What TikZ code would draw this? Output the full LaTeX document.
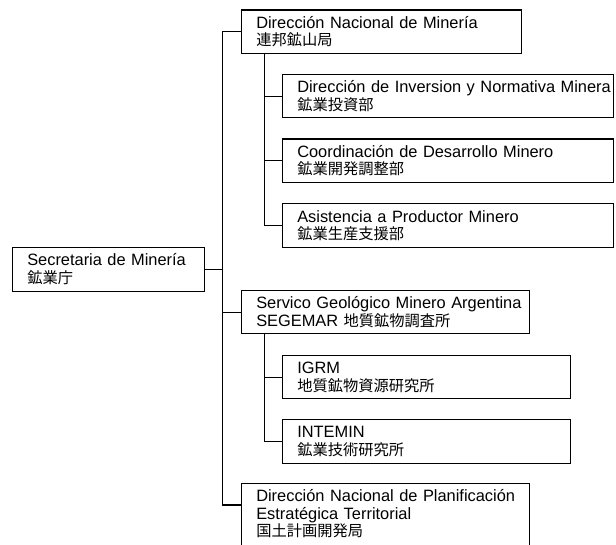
\documentclass[tikz,border=0pt]{standalone}
\usepackage{fontspec}
\setmainfont{Liberation Sans}
\newfontfamily\cjk[Scale=0.93]{Noto Sans CJK JP}
\begin{document}
\begin{tikzpicture}[x=1pt,y=-1pt,
  box/.style={draw, line width=1.1pt, anchor=north west, align=left,
    inner xsep=15pt, inner ysep=0pt, font=\fontsize{16.4}{17.5}\selectfont},
  conn/.style={line width=1.1pt}]
\useasboundingbox (0,0) rectangle (616,545);
\clip (0,0) rectangle (616,545);
% boxes
\node[box, text width=162.3pt, minimum height=44pt] (sec) at (11.7,246.7)
  {\mbox{Secretaria de Minería}\\{\cjk 鉱業庁}};
\node[box, text width=250pt, minimum height=43.2pt] (dnm) at (240.7,9.5)
  {\mbox{Dirección Nacional de Minería}\\{\cjk 連邦鉱山局}};
\node[box, text width=301.6pt, minimum height=43.4pt] (inv) at (281.7,74)
  {\mbox{Dirección de Inversion y Normativa Minera}\\{\cjk 鉱業投資部}};
\node[box, text width=301.6pt, minimum height=43.6pt] (coord) at (281.7,138.5)
  {\mbox{Coordinación de Desarrollo Minero}\\{\cjk 鉱業開発調整部}};
\node[box, text width=301.6pt, minimum height=43.4pt] (asis) at (281.7,203.3)
  {\mbox{Asistencia a Productor Minero}\\{\cjk 鉱業生産支援部}};
\node[box, text width=258.6pt, minimum height=43.3pt] (seg) at (240.7,290)
  {\mbox{Servico Geológico Minero Argentina}\\\mbox{SEGEMAR {\cjk 地質鉱物調査所}}};
\node[box, text width=258.6pt, minimum height=43.3pt] (igrm) at (281.7,355)
  {IGRM\\{\cjk 地質鉱物資源研究所}};
\node[box, text width=258.6pt, minimum height=43.3pt] (intemin) at (281.7,419.3)
  {INTEMIN\\{\cjk 鉱業技術研究所}};
\node[box, text width=258.6pt, inner ysep=6pt, text depth=60pt] (plan) at (240.7,483.3)
  {\mbox{Dirección Nacional de Planificación}\\\mbox{Estratégica Territorial}\\{\cjk 国土計画開発局}};
% connector coordinates
\coordinate (trunk) at (222.7,0);
\coordinate (subA) at (264.3,0);
\coordinate (subB) at (264.3,0);
\coordinate (planjoin) at ([yshift=-21.7pt]plan.north west);
% connectors
\draw[conn] (sec.east) -- (sec.east -| trunk);
\draw[conn] (dnm.west) -- (dnm.west -| trunk) -- (planjoin -| trunk) -- (planjoin);
\draw[conn] (seg.west) -- (seg.west -| trunk);
\draw[conn] (dnm.south -| subA) -- (asis.west -| subA) -- (asis.west);
\draw[conn] (inv.west) -- (inv.west -| subA);
\draw[conn] (coord.west) -- (coord.west -| subA);
\draw[conn] (seg.south -| subB) -- (intemin.west -| subB) -- (intemin.west);
\draw[conn] (igrm.west) -- (igrm.west -| subB);
\end{tikzpicture}
\end{document}
